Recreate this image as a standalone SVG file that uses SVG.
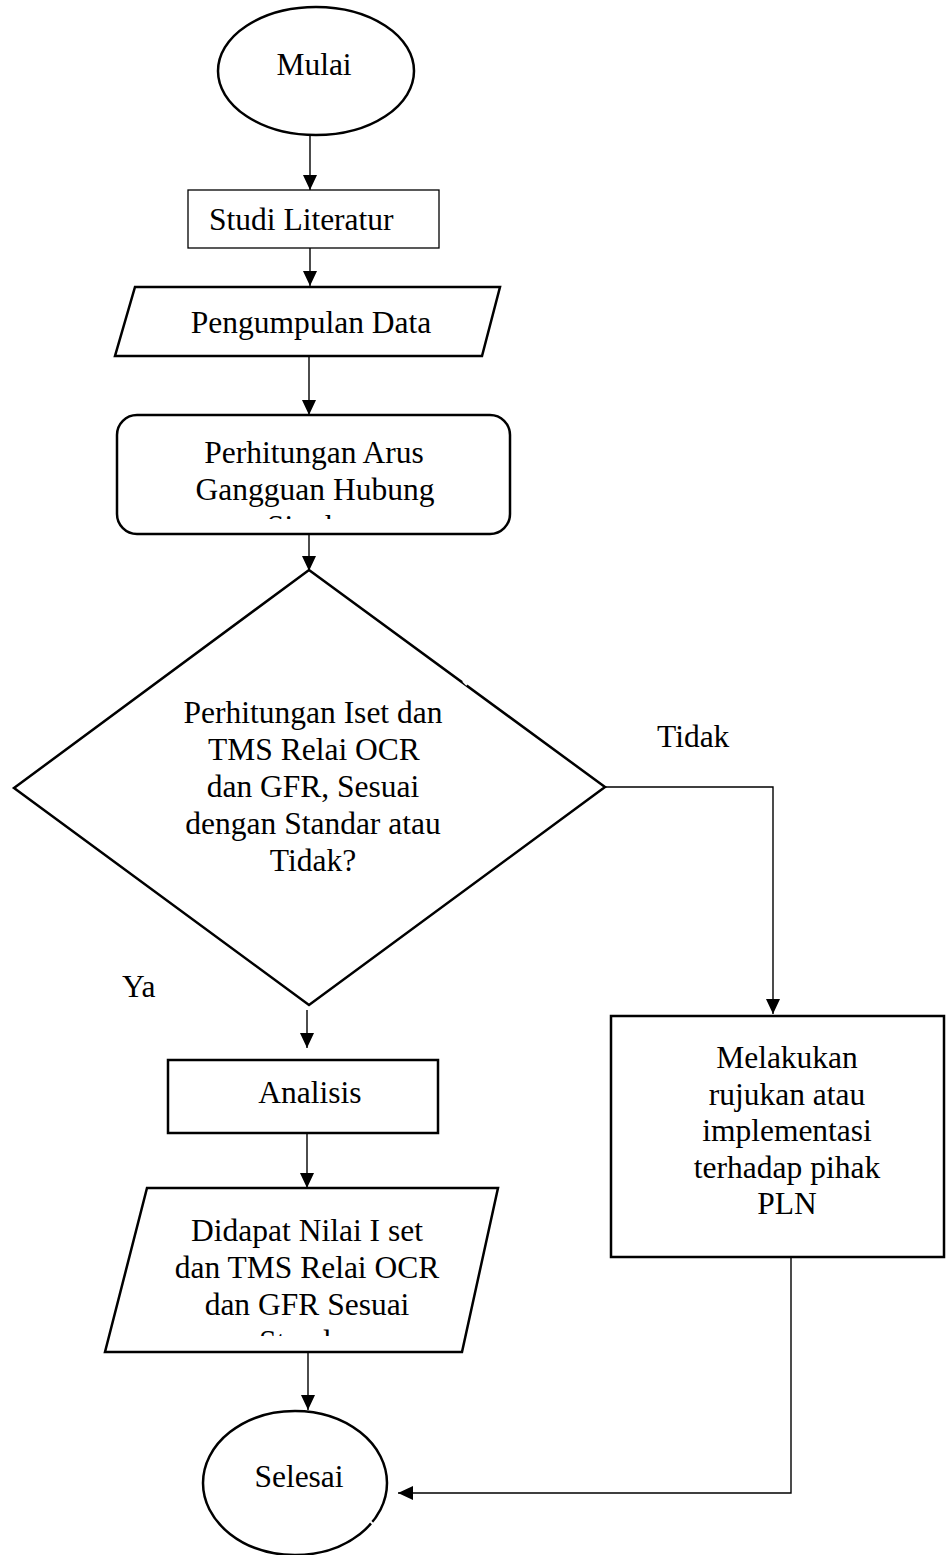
<svg xmlns="http://www.w3.org/2000/svg" width="949" height="1555" viewBox="0 0 949 1555">
  <style>
    .shape { fill: #ffffff; stroke: #000000; stroke-width: 2.5; }
    .thin { stroke-width: 1.3; }
    .conn { fill: none; stroke: #000000; stroke-width: 1.4; }
    .t { font-family: "Liberation Serif", "Times New Roman", serif; font-size: 31.5px; fill: #000000; }
    .c { text-anchor: middle; }
  </style>
  <defs>
    <marker id="arrow" markerUnits="userSpaceOnUse" markerWidth="16" markerHeight="16" refX="15" refY="7" orient="auto">
      <path d="M0,0 L15,7 L0,14 Z" fill="#000000"/>
    </marker>
    <clipPath id="clipArus"><rect x="100" y="420" width="430" height="99"/></clipPath>
    <clipPath id="clipDidapat"><rect x="100" y="1195" width="400" height="141"/></clipPath>
  </defs>
  <rect x="0" y="0" width="949" height="1555" fill="#ffffff"/>

  <g id="connectors">
    <line class="conn" x1="310" y1="135" x2="310" y2="190" marker-end="url(#arrow)"/>
    <line class="conn" x1="310" y1="248" x2="310" y2="286" marker-end="url(#arrow)"/>
    <line class="conn" x1="309" y1="357" x2="309" y2="415" marker-end="url(#arrow)"/>
    <line class="conn" x1="309" y1="534" x2="309" y2="571" marker-end="url(#arrow)"/>
    <line class="conn" x1="307" y1="1010" x2="307" y2="1048" marker-end="url(#arrow)"/>
    <line class="conn" x1="307" y1="1133" x2="307" y2="1188" marker-end="url(#arrow)"/>
    <line class="conn" x1="308" y1="1352" x2="308" y2="1410" marker-end="url(#arrow)"/>
    <polyline class="conn" points="605,787 773,787 773,1014" marker-end="url(#arrow)"/>
    <polyline class="conn" points="791,1257 791,1493 398,1493" marker-end="url(#arrow)"/>
  </g>

  <g id="mulai">
    <ellipse class="shape" cx="316" cy="71" rx="98" ry="64" stroke-width="2"/>
    <text class="t c" x="314" y="75">Mulai</text>
  </g>

  <g id="studi-literatur">
    <rect class="shape thin" x="188" y="190" width="251" height="58"/>
    <text class="t" x="209" y="230">Studi Literatur</text>
  </g>

  <g id="pengumpulan-data">
    <polygon class="shape" points="135,287 500,287 482,356 115,356"/>
    <text class="t c" x="311" y="333">Pengumpulan Data</text>
  </g>

  <g id="perhitungan-arus">
    <rect class="shape" x="117" y="415" width="393" height="119" rx="20" ry="20"/>
    <g clip-path="url(#clipArus)">
      <text class="t c" x="314" y="463">Perhitungan Arus</text>
      <text class="t c" x="315" y="500">Gangguan Hubung</text>
      <text class="t c" x="315" y="537">Singkat</text>
    </g>
  </g>

  <g id="keputusan">
    <polygon class="shape" points="309,570 605,787 309,1005 14,788"/>
    <line x1="463" y1="681" x2="467" y2="685" stroke="#ffffff" stroke-width="2"/>
    <text class="t c" x="313" y="723">Perhitungan Iset dan</text>
    <text class="t c" x="314" y="760">TMS Relai OCR</text>
    <text class="t c" x="313" y="797">dan GFR, Sesuai</text>
    <text class="t c" x="313" y="834">dengan Standar atau</text>
    <text class="t c" x="313" y="871">Tidak?</text>
  </g>

  <g id="label-tidak">
    <text class="t" x="657" y="747">Tidak</text>
  </g>
  <g id="label-ya">
    <text class="t" x="122" y="997">Ya</text>
  </g>

  <g id="analisis">
    <rect class="shape" x="168" y="1060" width="270" height="73" stroke-width="3"/>
    <text class="t c" x="310" y="1103">Analisis</text>
  </g>

  <g id="didapat">
    <polygon class="shape" points="147,1188 498,1188 462,1352 105,1352"/>
    <g clip-path="url(#clipDidapat)">
      <text class="t c" x="307" y="1241">Didapat Nilai I set</text>
      <text class="t c" x="307" y="1278">dan TMS Relai OCR</text>
      <text class="t c" x="307" y="1315">dan GFR Sesuai</text>
      <text class="t c" x="307" y="1352">Standar</text>
    </g>
  </g>

  <g id="melakukan">
    <rect class="shape" x="611" y="1016" width="333" height="241" stroke-width="2"/>
    <text class="t c" x="787" y="1068">Melakukan</text>
    <text class="t c" x="787" y="1105">rujukan atau</text>
    <text class="t c" x="787" y="1141">implementasi</text>
    <text class="t c" x="787" y="1178">terhadap pihak</text>
    <text class="t c" x="787" y="1214">PLN</text>
  </g>

  <g id="selesai">
    <ellipse class="shape" cx="295" cy="1483" rx="92" ry="72" stroke-width="2"/>
    <line x1="370" y1="1521" x2="374" y2="1525" stroke="#ffffff" stroke-width="2"/>
    <text class="t c" x="299" y="1487">Selesai</text>
  </g>
</svg>
